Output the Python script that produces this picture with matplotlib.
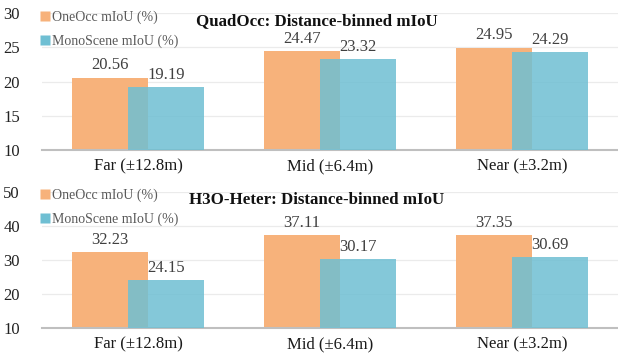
import matplotlib
matplotlib.use("Agg")
import matplotlib.pyplot as plt
import numpy as np
from matplotlib.lines import Line2D

categories = ["Far (\u00b112.8m)", "Mid (\u00b16.4m)", "Near (\u00b13.2m)"]
series_names = ["OneOcc mIoU (%)", "MonoScene mIoU (%)"]
quadocc_oneocc = [20.56, 24.47, 24.95]
quadocc_mono = [19.19, 23.32, 24.29]
h3o_oneocc = [32.23, 37.11, 37.35]
h3o_mono = [24.15, 30.17, 30.69]
titles = ["QuadOcc: Distance-binned mIoU", "H3O-Heter: Distance-binned mIoU"]
yticks_top = [10, 15, 20, 25, 30]
yticks_bot = [10, 20, 30, 40, 50]

plt.rcParams['font.family'] = ['Liberation Serif', 'DejaVu Serif']

W, H = 618, 356
fig = plt.figure(figsize=(W / 100, H / 100), dpi=100)

orange = "#F7B27B"
blue = "#6FBFD3"
blue_alpha = 0.85

def make_ax(top_px, bot_px):
    left = 42 / W
    return fig.add_axes([left, 1 - bot_px / H, 1 - left, (bot_px - top_px) / H])

panels = [
    (make_ax(13, 150), quadocc_oneocc, quadocc_mono, yticks_top, titles[0], 0.905),
    (make_ax(191.5, 328), h3o_oneocc, h3o_mono, yticks_bot, titles[1], 0.90),
]

x = np.arange(len(categories))
width = 0.396
off = 0.146

for ax, a, b, yt, title, ly1 in panels:
    ax.bar(x - off, a, width, color=orange, zorder=2)
    ax.bar(x + off, b, width, color=blue, alpha=blue_alpha, zorder=3)
    ax.set_ylim(yt[0], yt[-1])
    ax.set_xlim(-0.5, 2.5)
    ax.set_yticks(yt)
    ax.set_xticks(x)
    ax.set_xticklabels(categories, fontsize=12, color="#1a1a1a")
    ax.tick_params(axis='y', labelsize=12, length=0, pad=16)
    ax.tick_params(axis='x', length=0, pad=6)
    for lab in ax.get_yticklabels():
        lab.set_color("#222222")
    ax.yaxis.grid(True, color="#EBEBEB", linewidth=0.9, zorder=0)
    ax.set_axisbelow(True)
    for s in ["top", "right", "left"]:
        ax.spines[s].set_visible(False)
    ax.spines["bottom"].set_color("#BFBFBF")
    ax.spines["bottom"].set_linewidth(1.5)
    for i in range(len(categories)):
        ax.annotate(f"{a[i]:.2f}", (x[i] - off, a[i]), xytext=(0, 3), textcoords="offset points",
                    ha="center", va="bottom", fontsize=12, color="#404040")
        ax.annotate(f"{b[i]:.2f}", (x[i] + off, b[i]), xytext=(0, 3), textcoords="offset points",
                    ha="center", va="bottom", fontsize=12, color="#404040")
    ax.text(0.477, ly1 + 0.035, title, transform=ax.transAxes, ha="center", va="center",
            fontsize=12.2, fontweight="bold", color="#111111")
    handles = [Line2D([0], [0], marker='s', color='none', markerfacecolor=orange, markeredgecolor='none', markersize=7),
               Line2D([0], [0], marker='s', color='none', markerfacecolor=blue, markeredgecolor='none', markersize=7)]
    leg = ax.legend(handles, series_names, loc="upper left", bbox_to_anchor=(-0.012, 1.06),
                    frameon=False, fontsize=10, handlelength=0.6, handletextpad=0.2,
                    labelspacing=0.75, borderaxespad=0)
    for t in leg.get_texts():
        t.set_color("#595959")

fig.savefig("out.png", dpi=100)
